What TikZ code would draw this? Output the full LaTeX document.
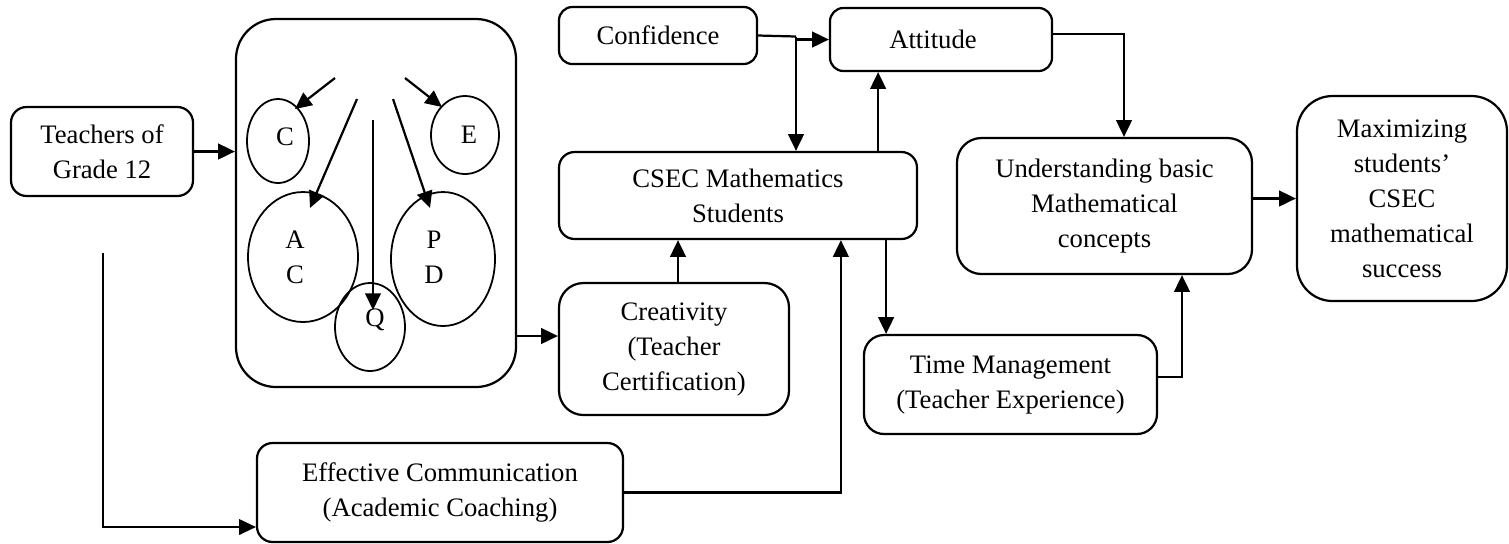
\documentclass[tikz,border=0pt]{standalone}
\usepackage{fontspec}
\setmainfont{Liberation Serif}
\usetikzlibrary{arrows.meta,calc,shapes.geometric}
\begin{document}
\begin{tikzpicture}[x=0.45pt,y=-0.45pt,
  wh/.style 2 args={minimum width=#1*0.45pt,minimum height=#2*0.45pt},
  box/.style={draw,line width=1pt,rounded corners=#1,align=center,inner sep=0pt,
    font=\fontsize{12}{15.75}\selectfont},
  box/.default=7pt,
  ell/.style={draw,ellipse,line width=0.8pt,inner sep=0pt},
  lbl/.style={inner sep=0pt,font=\fontsize{12}{15.75}\selectfont,align=center},
  arr/.style={-{Triangle[length=7.5pt,width=7pt]},line width=1pt},
  ln/.style={line width=1pt}]
\useasboundingbox (0,0) rectangle (1509,543);

% main boxes
\node[box, wh={182}{89}] (teach) at (102,151.5) {Teachers of\\Grade 12};
\node[box=18pt, wh={280}{368}] (group) at (376,203) {};
\node[box=6pt, wh={198}{57}] (conf) at (658,35.5) {Confidence};
\node[box=6pt, wh={222}{63}] (att) at (941,39.5) {};
\node[lbl] (attt) at (933,39.5) {Attitude};
\node[box, wh={358}{87}] (csec) at (738,195.5) {CSEC Mathematics\\Students};
\node[box=11pt, wh={230}{132}] (creat) at (674,349) {Creativity\\(Teacher\\Certification)};
\node[box=9pt, wh={293}{99}] (time) at (1010.5,384.5) {Time Management\\(Teacher Experience)};
\node[box=11pt, wh={295}{136}] (und) at (1104.5,206) {Understanding basic\\Mathematical\\concepts};
\node[box=16pt, wh={210}{205}] (maxi) at (1402,198.5) {Maximizing\\students’\\CSEC\\mathematical\\success};
\node[box, wh={366}{99}] (effc) at (440,492.5) {Effective Communication\\(Academic Coaching)};

% ellipses inside the grouped box
\node[ell, wh={62}{84}] (eC) at (278,141) {};
\node[ell, wh={68}{78}] (eE) at (465,135) {};
\node[ell, wh={110}{130}] (eAC) at (303,257) {};
\node[ell, wh={104}{134}] (ePD) at (443,259) {};
\node[ell, wh={70}{88}] (eQ) at (370,327) {};
\node[lbl] (tC) at (285,137) {C};
\node[lbl] (tE) at (469,135) {E};
\node[lbl] (tAC) at (295,257.5) {A\\C};
\node[lbl] (tPD) at (434,257.5) {P\\D};
\node[lbl] (tQ) at (375,320) {Q};

% fan of arrows inside the grouped box
\coordinate (sC) at (335,78);   \coordinate (hC) at (295,109);
\coordinate (sAC) at (357,99);  \coordinate (hAC) at (310,208);
\coordinate (sQ) at (373,120);  \coordinate (hQ) at (373,310);
\coordinate (sPD) at (393,99);  \coordinate (hPD) at (430,208);
\coordinate (sE) at (405,78);   \coordinate (hE) at (442,107);
\draw[arr] (sC) -- (hC);
\draw[arr] (sAC) -- (hAC);
\draw[arr] (sQ) -- (hQ);
\draw[arr] (sPD) -- (hPD);
\draw[arr] (sE) -- (hE);

% connectors
\draw[arr] (teach.east) -- (teach.east -| group.west);
\coordinate (gout) at (516,336);
\draw[arr] (gout) -- (gout -| creat.west);
\coordinate (cup) at ($(creat.north)+(4,0)$);
\draw[arr] (cup) -- (cup |- csec.south);

\coordinate (cj) at (796,36.5);
\draw[ln] (conf.east) -- (cj);
\draw[arr] (cj |- att.west) -- (att.west);
\draw[arr] (cj) -- (cj |- csec.north);
\coordinate (aup) at ($(csec.north east)+(-40,0)$);
\draw[arr] (aup) -- (aup |- att.south);

\coordinate (ad) at (1124,34);
\draw[arr] (att.east |- ad) -- (ad) -- (ad |- und.north);
\draw[arr] (und.east |- maxi.west) -- (maxi.west);

\coordinate (tdn) at ($(csec.south east)+(-32,0)$);
\draw[arr] (tdn) -- (tdn |- time.north);
\coordinate (tr) at ($(time.east)+(0,-7.5)$);
\coordinate (tu) at (1182,377);
\draw[arr] (tr) -- (tu) -- (tu |- und.south);

\coordinate (eup) at ($(csec.south west)+(283,0)$);
\draw[arr] (effc.east) -| (eup);

\coordinate (l0) at (103,253);
\coordinate (l1) at (103,527);
\draw[arr,line width=0.7pt] (l0) -- (l1) -- (l1 -| effc.west);
\end{tikzpicture}
\end{document}
